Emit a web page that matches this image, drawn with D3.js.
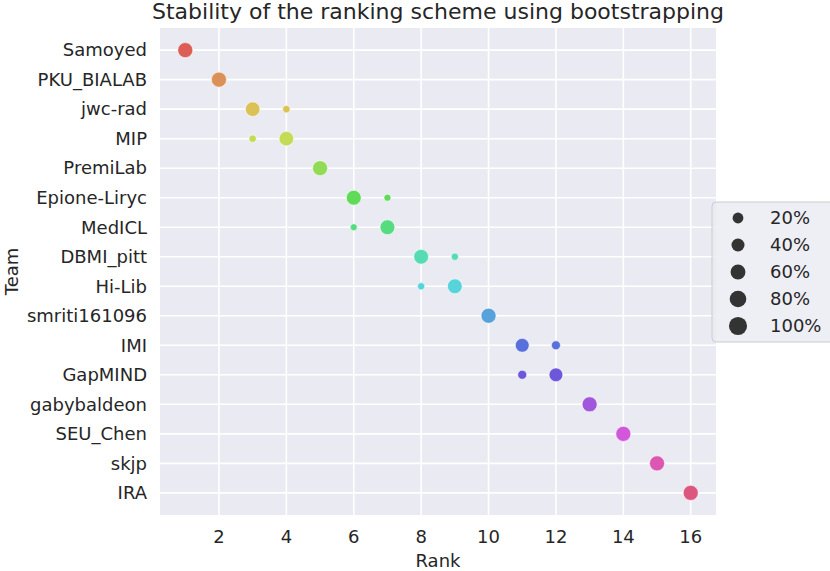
<!DOCTYPE html>
<html>
<head>
<meta charset="utf-8">
<script src="https://cdn.jsdelivr.net/npm/d3@7"></script>
<style>
  body { margin: 0; background: #fff; }
  text { font-family: "DejaVu Sans", sans-serif; fill: #262626; }
</style>
</head>
<body>
<div id="chart"></div>
<script>
// teams, top to bottom
const teams = ["Samoyed", "PKU_BIALAB", "jwc-rad", "MIP", "PremiLab", "Epione-Liryc",
  "MedICL", "DBMI_pitt", "Hi-Lib", "smriti161096", "IMI", "GapMIND",
  "gabybaldeon", "SEU_Chen", "skjp", "IRA"];

// one point per (team, rank) with the share of bootstrap samples (%)
const pointTeam = ["Samoyed", "PKU_BIALAB", "jwc-rad", "jwc-rad", "MIP", "MIP", "PremiLab",
  "Epione-Liryc", "Epione-Liryc", "MedICL", "MedICL", "DBMI_pitt", "DBMI_pitt",
  "Hi-Lib", "Hi-Lib", "smriti161096", "IMI", "IMI", "GapMIND", "GapMIND",
  "gabybaldeon", "SEU_Chen", "skjp", "IRA"];
const pointRank = [1, 2, 3, 4, 3, 4, 5, 6, 7, 6, 7, 8, 9, 8, 9, 10, 11, 12, 11, 12, 13, 14, 15, 16];
const pointPct  = [100, 100, 93, 7, 7, 93, 100, 97, 3, 3, 97, 95, 5, 5, 95, 100, 80, 20, 20, 80, 100, 100, 100, 100];

const xTicks = [2, 4, 6, 8, 10, 12, 14, 16];
const legendPct = [20, 40, 60, 80, 100];

const W = 830, H = 571;
const margin = {top: 28, right: 114, bottom: 56, left: 160};

const svg = d3.select("#chart").append("svg")
  .attr("width", W).attr("height", H);

const x = d3.scaleLinear().domain([0.25, 16.75]).range([margin.left, W - margin.right]);
// categorical y with seaborn-like 5% margins
const yNum = d3.scaleLinear().domain([-0.75, teams.length - 1 + 0.75]).range([margin.top, H - margin.bottom]);
const yPos = t => yNum(teams.indexOf(t));

// marker area linear in percentage
const pMin = d3.min(pointPct), pMax = d3.max(pointPct);
const area = d3.scaleLinear().domain([pMin, pMax]).range([12.5, 57]);
const r = p => Math.sqrt(area(p));

// hls palette, one hue per team
const color = d3.scaleOrdinal().domain(teams)
  .range(teams.map((t, i) => d3.hsl(((i / teams.length + 0.01) % 1) * 360, 0.65, 0.6).formatHex()));

// background
svg.append("rect")
  .attr("x", x.range()[0]).attr("y", yNum.range()[0])
  .attr("width", x.range()[1] - x.range()[0])
  .attr("height", yNum.range()[1] - yNum.range()[0])
  .attr("fill", "#eaeaf2");

// grid
svg.append("g").selectAll("line").data(xTicks).join("line")
  .attr("x1", d => x(d)).attr("x2", d => x(d))
  .attr("y1", yNum.range()[0]).attr("y2", yNum.range()[1])
  .attr("stroke", "#fff").attr("stroke-width", 1.6);
svg.append("g").selectAll("line").data(teams).join("line")
  .attr("x1", x.range()[0]).attr("x2", x.range()[1])
  .attr("y1", d => yPos(d)).attr("y2", d => yPos(d))
  .attr("stroke", "#fff").attr("stroke-width", 1.6);

// points
svg.append("g").selectAll("circle").data(pointRank).join("circle")
  .attr("cx", d => x(d))
  .attr("cy", (d, i) => yPos(pointTeam[i]))
  .attr("r", (d, i) => r(pointPct[i]))
  .attr("fill", (d, i) => color(pointTeam[i]))
  .attr("stroke", "#fff").attr("stroke-width", 0.6);

// tick labels
svg.append("g").selectAll("text").data(xTicks).join("text")
  .attr("x", d => x(d)).attr("y", H - margin.bottom + 28)
  .attr("text-anchor", "middle").attr("font-size", 18)
  .text(d => d);
svg.append("g").selectAll("text").data(teams).join("text")
  .attr("x", margin.left - 13).attr("y", d => yPos(d))
  .attr("dy", "0.35em")
  .attr("text-anchor", "end").attr("font-size", 18)
  .text(d => d);

// axis labels and title
svg.append("text").attr("x", (x.range()[0] + x.range()[1]) / 2).attr("y", H - 4)
  .attr("text-anchor", "middle").attr("font-size", 18).text("Rank");
svg.append("text")
  .attr("transform", `translate(18,${(yNum.range()[0] + yNum.range()[1]) / 2}) rotate(-90)`)
  .attr("text-anchor", "middle").attr("font-size", 18).text("Team");
svg.append("text").attr("x", (x.range()[0] + x.range()[1]) / 2).attr("y", 19)
  .attr("text-anchor", "middle").attr("font-size", 22)
  .text("Stability of the ranking scheme using bootstrapping");

// legend
const lg = svg.append("g").attr("transform", "translate(712,202)");
lg.append("rect").attr("x", 0).attr("y", 0).attr("width", 130).attr("height", 140)
  .attr("rx", 4).attr("fill", "#eaeaf2").attr("fill-opacity", 0.8)
  .attr("stroke", "#cccccc").attr("stroke-width", 1);
const item = lg.selectAll("g.item").data(legendPct).join("g")
  .attr("transform", (d, i) => `translate(0,${16 + i * 27})`);
item.append("circle").attr("cx", 26).attr("cy", 0)
  .attr("r", d => r(d) * 1.2).attr("fill", "#333333");
item.append("text").attr("x", 58).attr("y", 0).attr("dy", "0.35em")
  .attr("font-size", 18).text(d => d + "%");
</script>
</body>
</html>
